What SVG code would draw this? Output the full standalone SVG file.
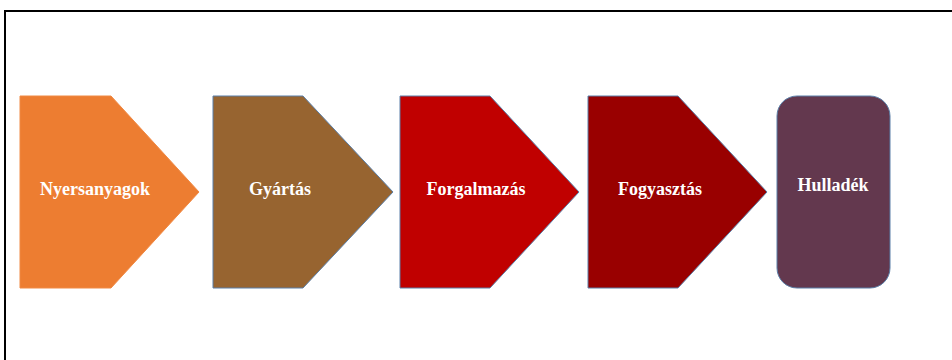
<svg xmlns="http://www.w3.org/2000/svg" width="952" height="360" viewBox="0 0 952 360">
  <style>
    .lbl { font-family: "Liberation Serif", "Times New Roman", serif; font-weight: bold; font-size: 18px; fill: #ffffff; text-anchor: middle; }
    .blue { stroke: #5b7fa8; stroke-width: 1; }
  </style>
  <rect x="0" y="0" width="952" height="360" fill="#ffffff"/>
  <path d="M5,362 V11 H954" fill="none" stroke="#000000" stroke-width="2"/>
  <g id="n1">
    <polygon points="20,96 111,96 199,192 111,288 20,288" fill="#ed7d31" stroke="#f08a45" stroke-width="1"/>
    <text class="lbl" x="95" y="195">Nyersanyagok</text>
  </g>
  <g id="n2">
    <polygon class="blue" points="213,96 303,96 393,192 303,288 213,288" fill="#976430"/>
    <text class="lbl" x="280" y="195">Gyártás</text>
  </g>
  <g id="n3">
    <polygon class="blue" points="400,96 490,96 579,192 490,288 400,288" fill="#c00000"/>
    <text class="lbl" x="476" y="195">Forgalmazás</text>
  </g>
  <g id="n4">
    <polygon class="blue" points="588,96 678,96 767,192 678,288 588,288" fill="#990000"/>
    <text class="lbl" x="660" y="195">Fogyasztás</text>
  </g>
  <g id="n5">
    <rect class="blue" x="777" y="96" width="113" height="192" rx="20" ry="20" fill="#63384e"/>
    <text class="lbl" x="833" y="191">Hulladék</text>
  </g>
  <g id="connectors"></g>
</svg>
